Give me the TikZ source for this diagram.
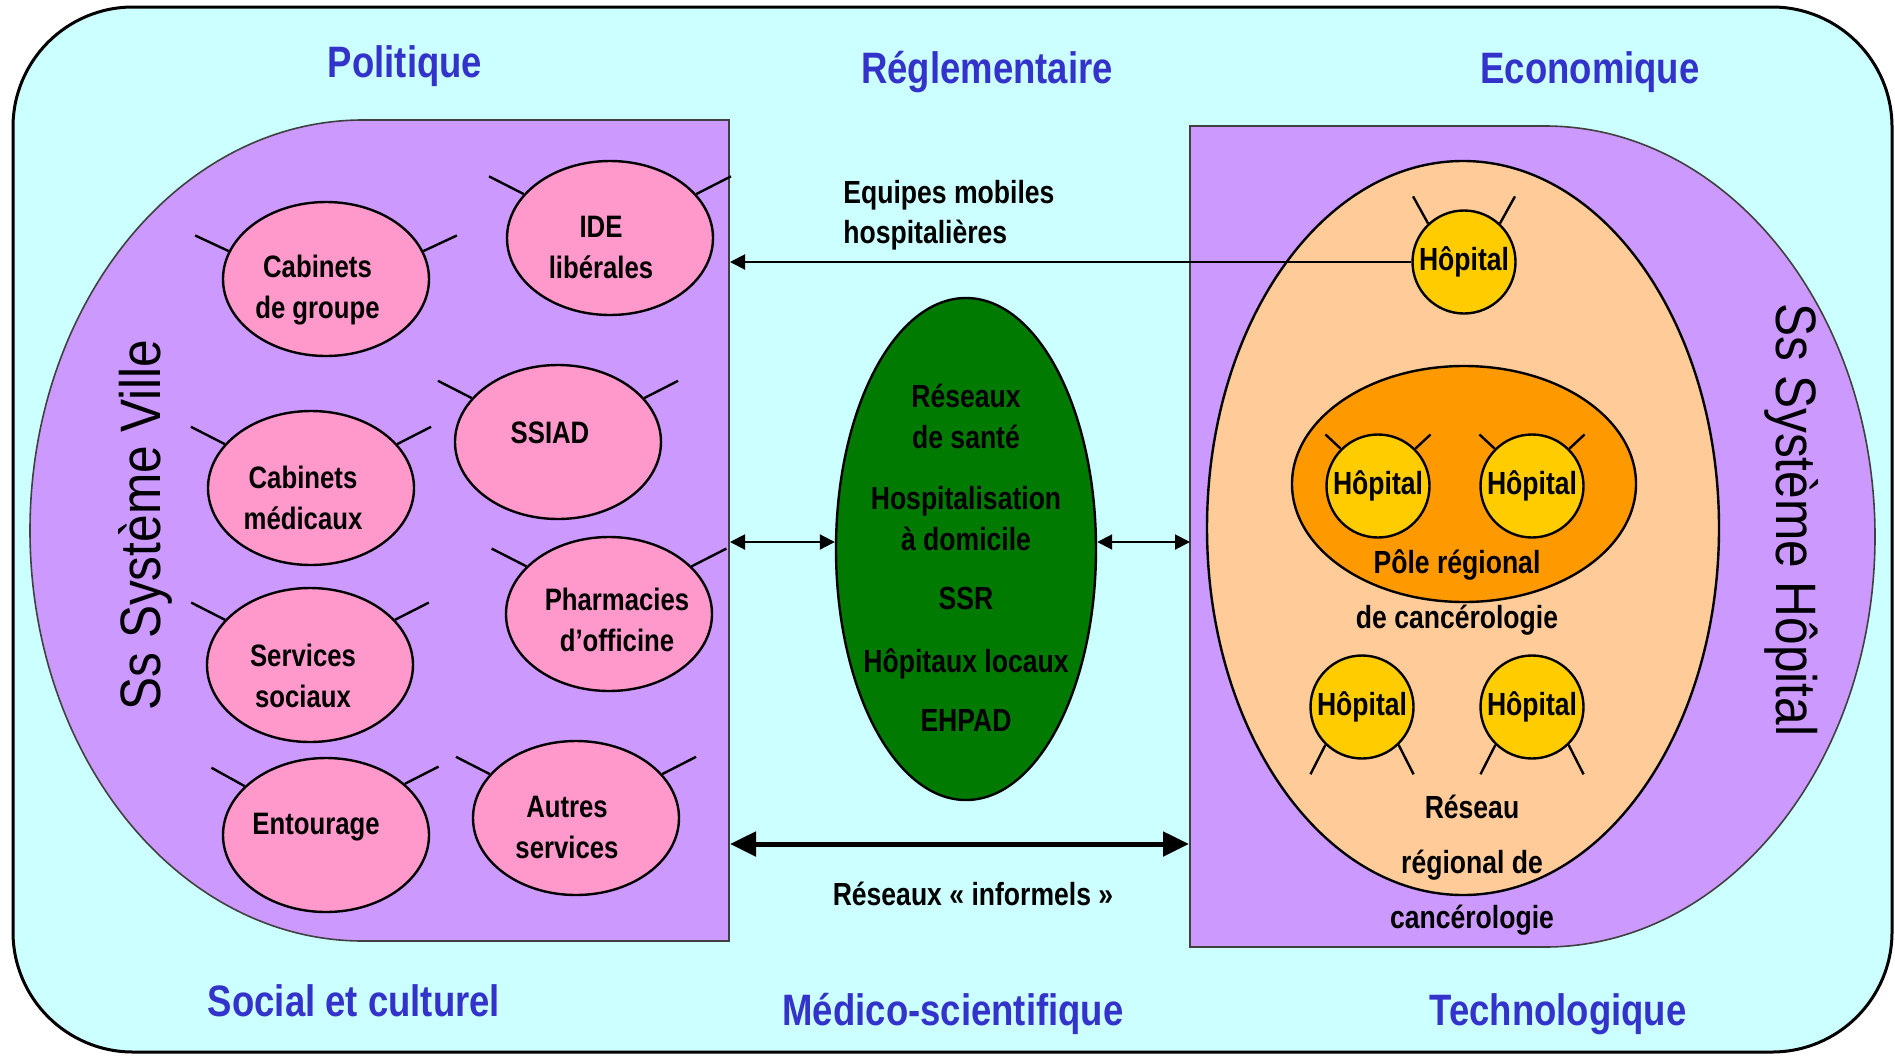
\documentclass[tikz,border=0pt]{standalone}
\usepackage{fontspec}
\setmainfont{Liberation Sans}[FakeStretch=0.83]
\newfontfamily\sysfont{Liberation Sans}[FakeStretch=0.87]
\usetikzlibrary{arrows.meta,shapes.geometric}

\definecolor{bgcyan}{HTML}{CCFFFF}
\definecolor{lavender}{HTML}{CC99FF}
\definecolor{rose}{HTML}{FF99CC}
\definecolor{forest}{HTML}{007A00}
\definecolor{peach}{HTML}{FFCC99}
\definecolor{amber}{HTML}{FF9900}
\definecolor{gold}{HTML}{FFCC00}
\definecolor{dimblue}{HTML}{3333CC}

% node, left anchor, right anchor, left direction, right direction, length
\newcommand\feelers[6]{%
  \draw[feeler] (#1.#2) -- ++(#4:#6);
  \draw[feeler] (#1.#3) -- ++(#5:#6);}

\begin{document}
\begin{tikzpicture}[x=0.5pt,y=0.5pt,
  frame/.style={draw=black,line width=1.5pt,fill=bgcyan,rounded corners=60pt},
  sysbox/.style={draw=black!75,line width=0.8pt,fill=lavender},
  pinkell/.style={ellipse,draw,line width=1.2pt,fill=rose,minimum width=103pt,minimum height=77pt,inner sep=0pt},
  hop/.style={circle,draw,line width=1.2pt,fill=gold,minimum size=51.5pt,inner sep=0pt,
    font=\fontsize{16}{18}\selectfont\bfseries},
  feeler/.style={line width=1.2pt},
  lbl/.style={font=\fontsize{15.5}{20.5}\selectfont\bfseries,align=center,inner sep=0pt,anchor=base},
  txt/.style={font=\fontsize{16}{20}\selectfont\bfseries,align=center,inner sep=0pt,anchor=base},
  dim/.style={text=dimblue,font=\fontsize{22}{26}\selectfont\bfseries,inner sep=0pt,anchor=base},
  sys/.style={font=\sysfont\fontsize{28.5}{32}\selectfont,inner sep=0pt},
  lnk/.style={line width=1pt},
  tip/.tip={Triangle[length=7.5pt,width=7.5pt]},
  bigtip/.tip={Triangle[length=13pt,width=12pt]}]

\useasboundingbox (0,0) rectangle (1895,-1055);
\draw[frame] (13,-7) rectangle (1892,-1052);

% city and hospital subsystems
\path[sysbox] (729,-120) -- (363,-120)
  arc[start angle=90,end angle=270,x radius=333,y radius=410.5] -- (729,-941) -- cycle;
\path[sysbox] (1190,-126) -- (1545,-126)
  arc[start angle=90,end angle=-90,x radius=330,y radius=410.5] -- (1190,-947) -- cycle;

% regional network and regional pole
\node[ellipse,draw,line width=1.2pt,fill=peach,minimum width=256pt,minimum height=367pt,inner sep=0pt]
  (reseau) at (1463,-528) {};
\node[ellipse,draw,line width=1.2pt,fill=amber,minimum width=172pt,minimum height=118pt,inner sep=0pt]
  (pole) at (1464,-484) {};

% hospitals
\node[hop] (hop1) at (1464,-262) {Hôpital};
\node[hop] (hop2) at (1378,-486) {Hôpital};
\node[hop] (hop3) at (1532,-486) {Hôpital};
\node[hop] (hop4) at (1362,-707) {Hôpital};
\node[hop] (hop5) at (1532,-707) {Hôpital};
\feelers{hop1}{133}{47}{119}{61}{31}
\feelers{hop2}{135}{45}{137}{43}{21}
\feelers{hop3}{135}{45}{137}{43}{21}
\feelers{hop4}{226}{314}{243}{297}{33}
\feelers{hop5}{226}{314}{243}{297}{33}

% multi-line labels are anchored on the baseline of their last line
\node[txt,font=\fontsize{16}{27.5}\selectfont\bfseries] (polelbl) at (1457,-628.5) {Pôle régional\\de cancérologie};
\node[txt,font=\fontsize{16}{27.5}\selectfont\bfseries] (reslbl) at (1472,-928.5) {Réseau\\régional de\\cancérologie};

% city actors
\node[pinkell] (cg) at (326,-279) {};
\node[pinkell] (ide) at (610,-238) {};
\node[pinkell] (ssiad) at (558,-442) {};
\node[pinkell] (cm) at (311,-488) {};
\node[pinkell] (ph) at (609,-614) {};
\node[pinkell] (ss) at (310,-665) {};
\node[pinkell] (ent) at (326,-835) {};
\node[pinkell] (aut) at (576,-818) {};
\feelers{cg}{164}{16}{155}{25}{37}
\feelers{ide}{153}{27}{153}{27}{39}
\feelers{ssiad}{153}{27}{153}{27}{38}
\feelers{cm}{153}{27}{153}{27}{38}
\feelers{ph}{150}{30}{153}{27}{39}
\feelers{ss}{152}{28}{153}{27}{38}
\feelers{ent}{149}{33}{151}{27}{38}
\feelers{aut}{153}{27}{153}{27}{38}

\node[lbl] (cgt) at (317.5,-318.5) {Cabinets\\de groupe};
\node[lbl] (idet) at (601,-278.5) {IDE\\libérales};
\node[lbl] (ssiadt) at (550,-443) {SSIAD};
\node[lbl] (cmt) at (303,-529) {Cabinets\\médicaux};
\node[lbl] (pht) at (617,-651) {Pharmacies\\d’officine};
\node[lbl] (sst) at (303,-707) {Services\\sociaux};
\node[lbl] (entt) at (316,-834.5) {Entourage};
\node[lbl] (autt) at (567,-858) {Autres\\services};

% intermediate structures
\node[ellipse,draw,line width=1.2pt,fill=forest,minimum width=130pt,minimum height=251pt,inner sep=0pt]
  (green) at (966,-549) {};
\node[txt,font=\fontsize{16}{20.5}\selectfont\bfseries] (greent) at (966,-731.5)
  {Réseaux\\de santé\\[10pt]Hospitalisation\\à domicile\\[9pt]SSR\\[11pt]Hôpitaux locaux\\[9pt]EHPAD};

% links
\coordinate (vA) at (730,-262);
\coordinate (vB) at (730,-542);
\coordinate (hB) at (1190,-542);
\coordinate (vC) at (730,-844);
\coordinate (hC) at (1189,-844);
\draw[lnk,-tip] (hop1) -- (vA);
\draw[lnk,tip-tip] (vB) -- (vB -| green.west);
\draw[lnk,tip-tip] (vB -| green.east) -- (hB);
\draw[line width=2.5pt,bigtip-bigtip] (vC) -- (hC);

\node[txt,align=left,anchor=base west,font=\fontsize{16}{20}\selectfont\bfseries] (eqm) at (843,-243.5)
  {Equipes mobiles\\hospitalières};
\node[txt] (inf) at (973,-905) {Réseaux «~informels~»};

% subsystem titles
\node[sys,rotate=90] (villet) at (145,-525) {Ss Système Ville};
\node[sys,rotate=-90] (hopt) at (1792,-520) {Ss Système Hôpital};

% environment dimensions
\node[dim] (d1) at (405,-77) {Politique};
\node[dim] (d2) at (987,-83) {Réglementaire};
\node[dim] (d3) at (1590,-83) {Economique};
\node[dim] (d4) at (354,-1016) {Social et culturel};
\node[dim] (d5) at (953,-1025) {Médico-scientifique};
\node[dim] (d6) at (1558,-1025) {Technologique};
\end{tikzpicture}
\end{document}
